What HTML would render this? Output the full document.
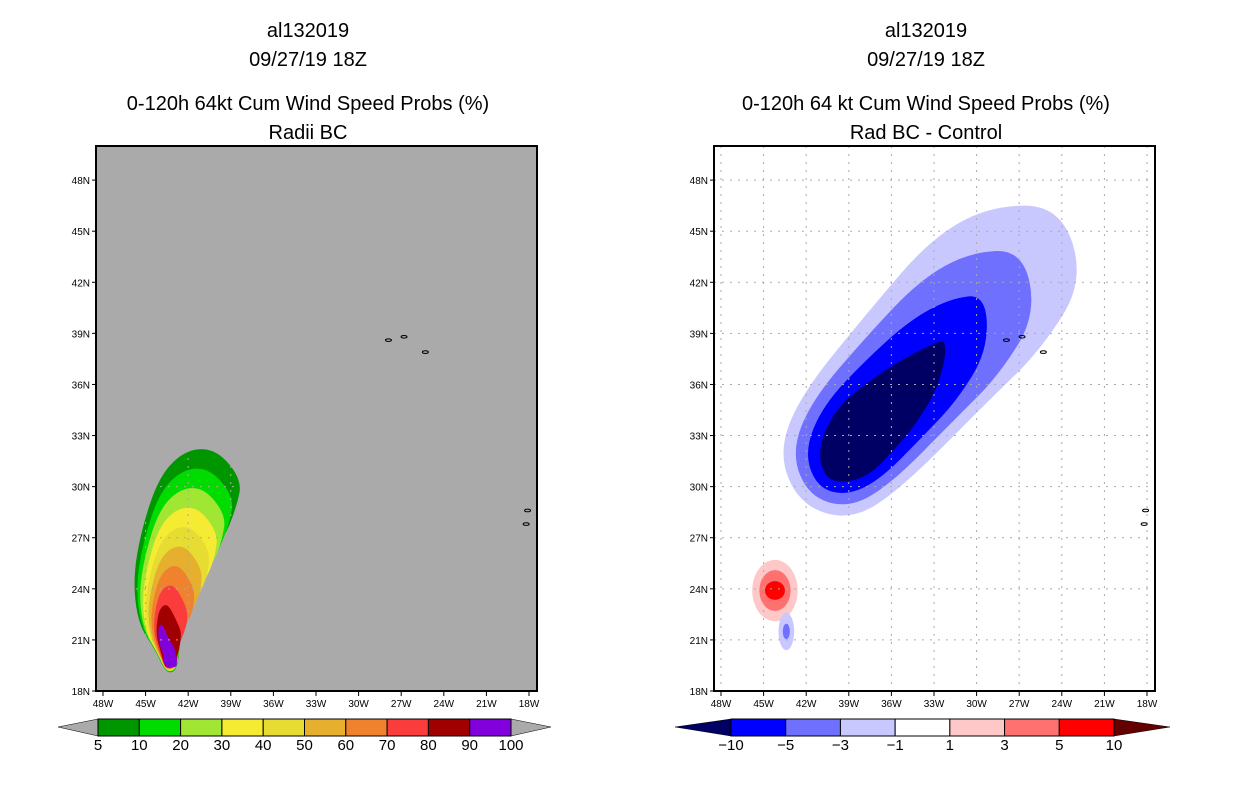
<!DOCTYPE html>
<html><head><meta charset="utf-8"><style>
body{margin:0;background:#fff;width:1236px;height:800px;overflow:hidden}
svg{display:block;font-family:"Liberation Sans",sans-serif}
</style></head><body>
<svg id="s" width="1236" height="800"></svg>
<script>
const latTicks=[18,21,24,27,30,33,36,39,42,45,48];
const lonTicks=[48,45,42,39,36,33,30,27,24,21,18];
const leftLevels=["5","10","20","30","40","50","60","70","80","90","100"];
const leftColors=["#009600","#00dc00","#a0e632","#f5eb32","#e6dc32","#e6af2d","#f0822d","#fa3c3c","#a00000","#8200dc"];
const rightLevels=["\u221210","\u22125","\u22123","\u22121","1","3","5","10"];
const rightColors=["#0000ff","#7070ff","#c8c8ff","#ffffff","#ffc8c8","#ff7070","#ff0000"];
const negColors=["#c8c8ff","#7070ff","#0000ff","#000064"];
const posColors=["#ffc8c8","#ff7070","#ff0000"];
const plumeOuter=[[-42.1,32.2],[-40.0,32.2],[-38.2,30.4],[-38.6,28.8],[-39.5,26.9],[-41.2,25.3],[-42.2,24.2],[-42.6,22.6],[-42.6,20.2],[-42.9,19.1],[-43.6,19.1],[-44.3,20.4],[-45.5,21.9],[-45.9,24.5],[-45.3,27.5],[-44.0,30.7]];
const plumeCore=[[-44.0,21.9],[-43.8,21.9],[-43.4,21.1],[-43.0,20.6],[-42.9,20.3],[-42.8,19.9],[-42.8,19.7],[-42.8,19.5],[-42.9,19.4],[-43.1,19.4],[-43.6,19.4],[-43.7,19.7],[-43.8,20.3],[-44.0,20.7],[-44.1,21.1],[-44.1,21.6]];
const diffOuter=[[-29.1,46.5],[-24.1,46.5],[-22.4,42.1],[-25.5,38.0],[-29.1,35.1],[-35.4,29.8],[-38.9,28.0],[-42.4,28.9],[-44.0,31.9],[-42.4,35.4],[-37.5,40.4],[-33.3,44.5]];
const diffCore=[[-33.3,38.3],[-32.0,38.7],[-32.6,36.0],[-34.3,33.6],[-36.1,31.9],[-37.5,30.7],[-39.3,30.2],[-40.7,30.5],[-41.2,32.2],[-40.0,34.5],[-37.9,36.0],[-35.4,37.4]];
const posBlob=[-44.2,23.9];
const posRadii=[[1.6,1.8],[1.1,1.2],[0.7,0.55]];
const negBlob=[-43.4,21.5];
const negBlobRadii=[[0.55,1.1],[0.25,0.45]];
const islands=[[-27.9,38.6],[-26.8,38.8],[-25.3,37.9],[-18.1,28.6],[-18.2,27.8]];

const S=document.getElementById('s');const NS='http://www.w3.org/2000/svg';
function el(t,a,p){const e=document.createElementNS(NS,t);for(const k in a)e.setAttribute(k,a[k]);(p||S).appendChild(e);return e;}
function mk(x0){return {x:lon=>x0+(lon+48)*14.2,y:lat=>691-(lat-18)*17.03};}
function smooth(pts){const n=pts.length;let d='';for(let i=0;i<=n;i++){const a=pts[i%n],b=pts[(i+1)%n];const m=[(a[0]+b[0])/2,(a[1]+b[1])/2];d+=i==0?'M'+m[0]+','+m[1]:' Q'+a[0]+','+a[1]+' '+m[0]+','+m[1];}return d+'Z';}
function interp(o,c,t,ax){return o.map((p,i)=>[ax.x(p[0]*(1-t)+c[i][0]*t),ax.y(p[1]*(1-t)+c[i][1]*t)]);}
function title(cx,lines){lines.forEach((l,i)=>{const t=el('text',{x:cx,y:l[1],'text-anchor':'middle','font-size':20,fill:'#000'});t.textContent=l[0];

});}
function axes(x0,ax,g,gc){
 for(const v of lonTicks){const x=ax.x(-v);el('line',{x1:x,y1:146,x2:x,y2:691,stroke:gc,'stroke-dasharray':'2,6','stroke-width':1},g);
  const t=el('text',{x:x,y:707,'text-anchor':'middle','font-size':10},g);t.textContent=v+'W';
  
  
  el('line',{x1:x,y1:691,x2:x,y2:696,stroke:'#000'},g);}
 for(const v of latTicks){const y=ax.y(v);el('line',{x1:x0,y1:y,x2:x0+441,y2:y,stroke:gc,'stroke-dasharray':'2,6'},g);
  const t=el('text',{x:x0-6,y:y+4,'text-anchor':'end','font-size':10},g);t.textContent=v+'N';
  
  
  el('line',{x1:x0-4,y1:y,x2:x0,y2:y,stroke:'#000'},g);}
 for(const p of islands){el('ellipse',{cx:ax.x(p[0]),cy:ax.y(p[1]),rx:3,ry:1.3,fill:'none',stroke:'#000','stroke-width':1},g);}
 el('rect',{x:x0,y:146,width:441,height:545,fill:'none',stroke:'#000','stroke-width':2},g);}
function cbar(g,x0,x1,bw,y,colors,labels,lc,rc){const n=colors.length;const w=(x1-x0)/n;
 el('polygon',{points:`${x0-bw},${y+8} ${x0},${y} ${x0},${y+17}`,fill:lc,stroke:'#000','stroke-width':0.5},g);
 el('polygon',{points:`${x1+bw},${y+8} ${x1},${y} ${x1},${y+17}`,fill:rc,stroke:'#000','stroke-width':0.5},g);
 colors.forEach((c,i)=>{const r=el('rect',{x:x0+i*w,y:y,width:w,height:17,fill:c,stroke:'#000','stroke-width':1},g);
  
  });
 labels.forEach((l,i)=>{const t=el('text',{x:x0+i*w,y:y+31,'text-anchor':'middle','font-size':15},g);t.textContent=l;
  
  });}

title(308,[["al132019",37],["09/27/19 18Z",66],["0-120h 64kt Cum Wind Speed Probs (%)",110],["Radii BC",139]]);
const gl=el('g',{});
const axL=mk(103);
el('rect',{x:96,y:146,width:441,height:545,fill:'#aaaaaa'},gl);
leftColors.forEach((c,k)=>{const p=el('path',{d:smooth(interp(plumeOuter,plumeCore,k/9,axL)),fill:c},gl);
 
 });
axes(96,axL,gl,'#aaaaaa');
const cl=el('g',{});
cbar(cl,98,511,40,719,leftColors,leftLevels,'#aaaaaa','#aaaaaa');

title(926,[["al132019",37],["09/27/19 18Z",66],["0-120h 64 kt Cum Wind Speed Probs (%)",110],["Rad BC - Control",139]]);
const gr=el('g',{});
const axR=mk(721);
el('rect',{x:714,y:146,width:441,height:545,fill:'#fff'},gr);
negColors.forEach((c,k)=>{const p=el('path',{d:smooth(interp(diffOuter,diffCore,k/3,axR)),fill:c},gr);
 
 });
posColors.forEach((c,k)=>{const r=posRadii[k];const e=el('ellipse',{cx:axR.x(posBlob[0]),cy:axR.y(posBlob[1]),rx:r[0]*14.2,ry:r[1]*17.03,fill:c},gr);
 
 });
negBlobRadii.forEach((r,k)=>{const e=el('ellipse',{cx:axR.x(negBlob[0]),cy:axR.y(negBlob[1]),rx:r[0]*14.2,ry:r[1]*17.03,fill:negColors[k]},gr);
 
 });
axes(714,axR,gr,'#aaaaaa');
const cr=el('g',{});
cbar(cr,731,1114,56,719,rightColors,rightLevels,'#000064','#640000');
</script></body></html>
